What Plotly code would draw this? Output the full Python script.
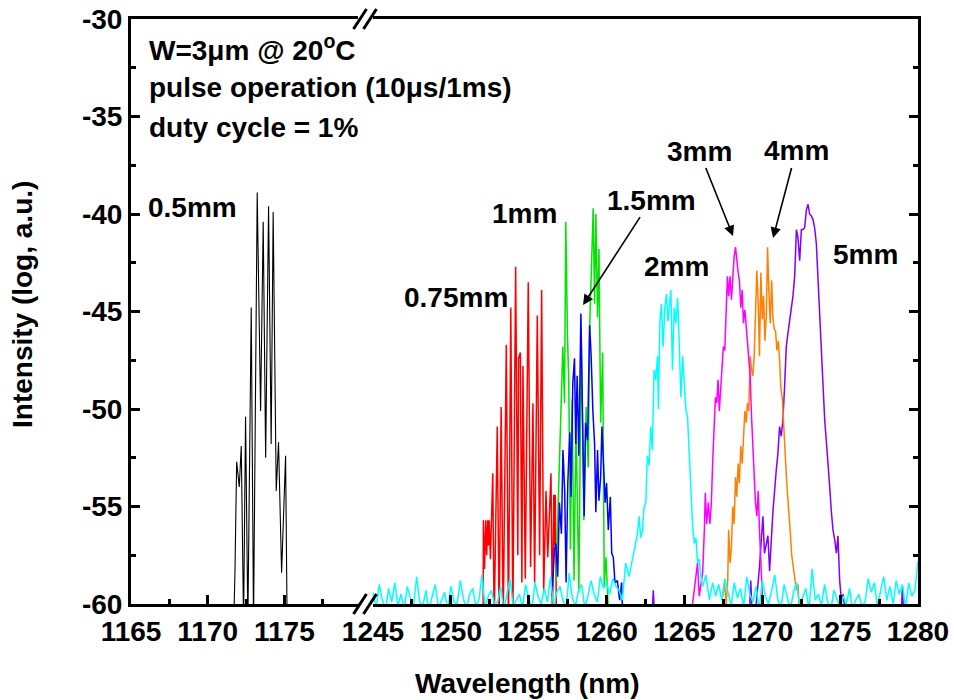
import numpy as np
import plotly.graph_objects as go

FONT = "Liberation Sans, Arial, sans-serif"

# ---------------- data (wavelength in nm, intensity in log a.u.) ----------------
# 0.5 mm (left axis segment)
bk_x = [1171.70, 1171.78, 1171.89, 1172.06, 1172.19, 1172.34, 1172.47, 1172.62, 1172.84, 1172.99,
        1173.23, 1173.45, 1173.62, 1173.78, 1173.97, 1174.14, 1174.27, 1174.47, 1174.62, 1174.82,
        1175.08, 1175.18]
bk_y = [-61, -58.3, -52.7, -54.0, -51.9, -61, -50.4, -61, -44.8, -61,
        -38.9, -50.1, -40.4, -52.5, -39.6, -51.8, -39.9, -54.2, -51.7, -58.4,
        -52.4, -61]

# 0.75 mm
rd_x = [1252.07, 1252.09, 1252.16, 1252.24, 1252.30, 1252.37, 1252.42, 1252.46, 1252.54, 1252.69,
        1252.78, 1252.98, 1253.10, 1253.23, 1253.36, 1253.56, 1253.70, 1253.85, 1253.98, 1254.16,
        1254.30, 1254.35, 1254.46, 1254.56, 1254.63, 1254.78, 1254.97, 1255.12, 1255.27, 1255.38,
        1255.55, 1255.70, 1255.83, 1255.96, 1256.11, 1256.22, 1256.43, 1256.52, 1256.61, 1256.66,
        1256.71, 1256.78]
rd_y = [-61, -55.7, -58.2, -55.7, -57.5, -55.7, -57.0, -55.7, -57.7, -53.3,
        -61, -50.9, -61, -49.9, -61, -46.7, -61, -44.8, -61, -42.7,
        -57.5, -47.4, -47.1, -58.9, -47.8, -58.7, -43.5, -58.1, -49.7, -58.9,
        -45.2, -57.5, -43.9, -59.4, -54.2, -57.6, -53.3, -61, -54.4, -57.0,
        -54.4, -61]

# 1 mm
gr_x = [1256.75, 1256.97, 1257.19, 1257.30, 1257.38, 1257.49, 1257.57, 1257.68, 1257.79, 1257.91,
        1258.04, 1258.22, 1258.37, 1258.54, 1258.69, 1258.82, 1258.93, 1259.04, 1259.14, 1259.23,
        1259.31, 1259.42, 1259.51, 1259.62, 1259.75, 1259.85, 1259.96, 1260.15]
gr_y = [-58.8, -53.2, -46.8, -49.7, -40.4, -46.3, -48.5, -57.2, -49.5, -58.8,
        -50.7, -59.4, -46.3, -55.7, -49.9, -53.0, -45.3, -42.5, -39.7, -44.6,
        -40.0, -45.3, -41.8, -50.7, -47.1, -59.1, -57.6, -61]

# 1.5 mm
bl_x = [1256.50, 1256.65, 1256.75, 1256.86, 1256.97, 1257.10, 1257.20, 1257.31, 1257.40, 1257.51,
        1257.64, 1257.72, 1257.83, 1257.94, 1258.02, 1258.11, 1258.22, 1258.35, 1258.43, 1258.56,
        1258.65, 1258.78, 1258.91, 1259.01, 1259.12, 1259.23, 1259.31, 1259.42, 1259.51, 1259.62,
        1259.70, 1259.81, 1259.91, 1260.00, 1260.11, 1260.24, 1260.33, 1260.43, 1260.54, 1260.69,
        1260.84, 1260.97, 1261.05]
bl_y = [-59.6, -57.2, -56.9, -58.6, -54.8, -56.4, -52.1, -54.2, -58.9, -53.8,
        -51.2, -54.5, -48.7, -47.4, -51.8, -48.3, -52.4, -45.1, -49.0, -55.5,
        -50.7, -51.6, -45.7, -47.3, -50.1, -51.8, -55.3, -52.1, -54.7, -53.5,
        -50.9, -53.3, -54.8, -53.8, -56.2, -54.5, -57.4, -57.6, -58.9, -58.8,
        -59.8, -58.9, -61]

# 2 mm (peak part)
cy_x = [1260.80, 1261.01, 1261.23, 1261.44, 1261.65, 1261.76, 1261.87, 1261.98, 1262.09, 1262.19,
        1262.30, 1262.41, 1262.52, 1262.62, 1262.73, 1262.84, 1262.94, 1263.05, 1263.16, 1263.27,
        1263.33, 1263.42, 1263.52, 1263.63, 1263.74, 1263.85, 1263.94, 1264.02, 1264.13, 1264.23,
        1264.34, 1264.45, 1264.56, 1264.66, 1264.77, 1264.88, 1264.99, 1265.10, 1265.20, 1265.31,
        1265.42, 1265.52, 1265.63, 1265.74, 1265.84, 1265.95, 1266.06, 1266.17, 1266.38, 1266.60,
        1266.81]
cy_y = [-59.3, -59.8, -57.9, -58.6, -57.8, -57.4, -56.9, -56.4, -55.5, -56.6,
        -56.3, -55.0, -54.8, -52.4, -52.9, -50.9, -52.1, -48.0, -48.5, -47.3,
        -50.0, -45.6, -44.6, -46.8, -44.8, -44.1, -45.5, -44.8, -43.9, -48.0,
        -44.8, -45.6, -44.3, -46.5, -49.4, -47.3, -48.7, -50.1, -50.4, -52.4,
        -54.2, -55.9, -56.9, -56.6, -57.9, -57.7, -58.6, -59.1, -58.5, -59.8,
        -58.9]
# 2 mm spectrum noise floor, sampled every 0.2 nm
cy_noise_left_start, cy_noise_right_start, cy_noise_step = 1245.0, 1267.0, 0.2
cy_noise_left = [
    -59.4, -60.2, -59.0, -59.8, -60.3, -59.2, -59.9, -58.9, -60.1, -59.5,
    -60.3, -59.1, -59.7, -60.2, -58.6, -59.9, -60.1, -59.3, -60.4, -59.6,
    -59.0, -60.2, -59.8, -59.4, -60.3, -59.1, -59.9, -60.0, -58.8, -59.7,
    -60.3, -59.5, -59.2, -60.1, -59.8, -58.5, -60.2, -59.6, -59.3, -60.0,
    -59.9, -59.1, -60.3, -59.4, -58.7, -60.1, -59.8, -59.5, -60.2, -59.0,
    -59.7, -60.3, -58.9, -59.6, -60.0, -59.2, -59.9, -58.6, -60.2, -59.4,
    -59.1, -59.8, -60.3, -58.4, -59.7, -60.1, -59.3, -59.0, -60.2, -59.6,
    -58.8, -59.5, -59.9, -58.6, -59.2, -58.9, -59.5, -58.7, -59.1]
cy_noise_right = [
    -59.6, -59.0, -59.8, -58.7, -59.4, -60.1, -58.9, -59.7, -59.2, -60.2,
    -58.6, -59.5, -59.9, -59.1, -60.3, -58.8, -59.6, -60.0, -59.3, -58.5,
    -59.8, -60.2, -59.0, -59.7, -60.3, -59.4, -58.9, -60.1, -59.6, -59.2,
    -60.3, -58.2, -59.8, -59.5, -60.1, -59.0, -59.9, -60.3, -59.3, -59.7,
    -60.2, -59.6, -60.0, -59.2, -60.3, -59.8, -59.5, -60.1, -59.9, -58.7,
    -59.4, -58.9, -60.2, -59.3, -58.6, -59.8, -59.1, -60.0, -58.8, -59.5,
    -59.0, -60.2, -58.9, -59.6, -59.3, -57.8]

# 3 mm
mg_x = [1265.52, 1265.63, 1265.74, 1265.84, 1265.95, 1266.06, 1266.17, 1266.28, 1266.34, 1266.43,
        1266.53, 1266.64, 1266.73, 1266.81, 1266.90, 1266.99, 1267.07, 1267.16, 1267.24, 1267.33,
        1267.42, 1267.50, 1267.59, 1267.68, 1267.76, 1267.84, 1267.93, 1268.02, 1268.10, 1268.19,
        1268.28, 1268.36, 1268.45, 1268.53, 1268.62, 1268.71, 1268.79, 1268.88, 1268.97, 1269.05,
        1269.13, 1269.22, 1269.31, 1269.39, 1269.48, 1269.56, 1269.65, 1269.74, 1269.82, 1269.91,
        1270.00, 1270.08]
mg_y = [-60.0, -59.3, -58.8, -57.9, -59.6, -58.9, -58.4, -56.2, -54.3, -55.9,
        -54.8, -55.9, -54.8, -52.8, -51.2, -49.4, -49.7, -48.5, -50.1, -48.7,
        -47.7, -46.8, -47.0, -45.1, -43.2, -44.2, -43.2, -44.4, -43.0, -42.2,
        -41.7, -42.5, -43.0, -43.4, -44.8, -43.9, -45.6, -44.9, -45.9, -46.3,
        -47.3, -48.3, -50.4, -51.9, -53.1, -54.8, -55.5, -54.2, -56.2, -57.9,
        -58.9, -61]

# 4 mm
og_x = [1267.46, 1267.57, 1267.68, 1267.78, 1267.84, 1267.93, 1268.02, 1268.10, 1268.19, 1268.28,
        1268.36, 1268.45, 1268.53, 1268.62, 1268.71, 1268.79, 1268.88, 1268.97, 1269.05, 1269.13,
        1269.22, 1269.31, 1269.39, 1269.48, 1269.56, 1269.65, 1269.74, 1269.82, 1269.91, 1270.00,
        1270.08, 1270.17, 1270.26, 1270.34, 1270.42, 1270.51, 1270.60, 1270.68, 1270.77, 1270.85,
        1270.94, 1271.03, 1271.11, 1271.20, 1271.29, 1271.37, 1271.46, 1271.55, 1271.63, 1271.72,
        1271.81, 1271.89, 1271.98, 1272.08, 1272.19, 1272.30, 1272.40]
og_y = [-59.6, -58.9, -60.0, -58.8, -56.2, -57.9, -57.1, -55.0, -55.9, -53.5,
        -54.5, -52.8, -53.8, -51.9, -52.8, -51.4, -50.1, -50.7, -49.7, -50.1,
        -47.3, -48.0, -48.3, -47.3, -45.1, -42.9, -44.6, -47.3, -43.0, -45.4,
        -44.2, -46.5, -45.1, -41.7, -43.9, -45.6, -43.4, -45.3, -45.9, -46.0,
        -47.0, -46.5, -47.5, -49.0, -49.5, -51.0, -52.5, -53.5, -54.5, -55.8,
        -56.5, -57.5, -58.0, -58.8, -59.3, -59.0, -61]

# 5 mm
pu_x = [1262.90, 1263.00, 1263.10, 1269.15, 1269.26, 1269.37,
        1269.61, 1269.82, 1270.04, 1270.14, 1270.36, 1270.47, 1270.68, 1270.79, 1270.90, 1271.00,
        1271.11, 1271.22, 1271.32, 1271.43, 1271.54, 1271.65, 1271.76, 1271.87, 1271.97, 1272.08,
        1272.19, 1272.29, 1272.40, 1272.51, 1272.61, 1272.72, 1272.83, 1272.94, 1273.04, 1273.15,
        1273.26, 1273.36, 1273.47, 1273.58, 1273.69, 1273.79, 1273.90, 1274.01, 1274.11, 1274.22,
        1274.33, 1274.44, 1274.54, 1274.65, 1274.76, 1274.86, 1274.97, 1275.08, 1275.19, 1275.41,
        1278.90, 1279.00, 1279.10]
pu_y = [-61, -59.3, -61, -61, -58.8, -61,
        -60.0, -58.1, -55.5, -57.4, -56.5, -58.3, -55.3, -54.0, -53.1, -52.3,
        -50.9, -51.4, -50.6, -48.9, -46.8, -46.1, -45.3, -44.8, -44.2, -43.2,
        -40.8, -41.2, -42.4, -40.8, -40.8, -40.7, -39.8, -39.5, -40.0, -40.1,
        -40.3, -40.7, -41.5, -43.4, -45.3, -47.1, -48.9, -50.6, -51.6, -53.1,
        -54.0, -55.3, -56.2, -56.7, -57.4, -56.5, -58.8, -59.8, -59.5, -61,
        -61, -59.1, -61]

# axis ticks
left_ticks = [1165, 1170, 1175]
left_minor = [1167.5, 1172.5, 1177.5]
right_ticks = [1245, 1250, 1255, 1260, 1265, 1270, 1275, 1280]
right_minor = [1247.5, 1252.5, 1257.5, 1262.5, 1267.5, 1272.5, 1277.5]
y_ticks = [-60, -55, -50, -45, -40, -35, -30]
y_minor = [-57.5, -52.5, -47.5, -42.5, -37.5, -32.5]

# ---------------- figure ----------------
cy_noise_left_x = np.round(cy_noise_left_start + cy_noise_step * np.arange(len(cy_noise_left)), 2)
cy_noise_right_x = np.round(cy_noise_right_start + cy_noise_step * np.arange(len(cy_noise_right)), 2)
cyan_x = list(cy_noise_left_x) + cy_x + list(cy_noise_right_x)
cyan_y = cy_noise_left + cy_y + cy_noise_right

fig = go.Figure()
fig.add_trace(go.Scatter(x=bk_x, y=bk_y, mode="lines", line=dict(color="black", width=1.1),
                         xaxis="x", yaxis="y", name="0.5mm"))
right_series = [
    (rd_x, rd_y, "#ff0000", "0.75mm"),
    (gr_x, gr_y, "#00e400", "1mm"),
    (bl_x, bl_y, "#0000ff", "1.5mm"),
    (pu_x, pu_y, "#8000ff", "5mm"),
    (og_x, og_y, "#ff8000", "4mm"),
    (mg_x, mg_y, "#ff00ff", "3mm"),
    (cyan_x, cyan_y, "#00ffff", "2mm"),
]
for xs, ys, col, nm in right_series:
    fig.add_trace(go.Scatter(x=xs, y=ys, mode="lines", line=dict(color=col, width=1.5),
                             xaxis="x2", yaxis="y2", name=nm))

tickfont = dict(family=FONT, size=28, color="black", weight="bold")
common_ax = dict(showline=True, linewidth=3, linecolor="black", showgrid=False, zeroline=False,
                 ticks="inside", ticklen=9, tickwidth=2.5, tickcolor="black", tickfont=tickfont,
                 automargin=False)

X_SPLIT_L, X_SPLIT_R = 0.2884, 0.3075

fig.update_layout(
    width=954, height=700,
    margin=dict(l=131, r=36, t=19, b=96, autoexpand=False),
    paper_bgcolor="white", plot_bgcolor="white", showlegend=False,
    xaxis=dict(domain=[0, X_SPLIT_L], range=[1165, 1179.8], anchor="y", mirror=True,
               tickmode="array", tickvals=left_ticks, ticktext=[str(t) for t in left_ticks],
               minor=dict(tickmode="array", tickvals=left_minor, ticks="inside", ticklen=5,
                          tickwidth=2.5, tickcolor="black"),
               **common_ax),
    xaxis2=dict(domain=[X_SPLIT_R, 1], range=[1245, 1280], anchor="y2", mirror=True,
                tickmode="array", tickvals=right_ticks, ticktext=[str(t) for t in right_ticks],
                minor=dict(tickmode="array", tickvals=right_minor, ticks="inside", ticklen=5,
                           tickwidth=2.5, tickcolor="black"),
                **common_ax),
    yaxis=dict(range=[-60, -30], anchor="x", tickmode="array", tickvals=y_ticks,
               ticktext=[str(t) for t in y_ticks],
               minor=dict(tickmode="array", tickvals=y_minor, ticks="inside", ticklen=5,
                          tickwidth=2.5, tickcolor="black"),
               **common_ax),
    yaxis2=dict(range=[-60, -30], anchor="x2", side="right", matches="y", showticklabels=False,
                tickmode="array", tickvals=y_ticks,
                minor=dict(tickmode="array", tickvals=y_minor, ticks="inside", ticklen=5,
                           tickwidth=2.5, tickcolor="black"),
                **common_ax),
)

# axis-break marks
def px2paper(px, py):
    return (px - 131) / 787.0, (604 - py) / 585.0

for cx in (360, 370):
    for cy in (19, 604):
        x0, y0 = px2paper(cx - 6.5, cy + 10)
        x1, y1 = px2paper(cx + 6.5, cy - 10)
        fig.add_shape(type="line", xref="paper", yref="paper", x0=x0, y0=y0, x1=x1, y1=y1,
                      line=dict(color="black", width=3))

lab_font = dict(family=FONT, size=28, color="black", weight="bold")
# info text
for i, line in enumerate(["W=3\u03bcm @ 20<sup>o</sup>C", "pulse operation (10\u03bcs/1ms)",
                          "duty cycle = 1%"]):
    x, y = px2paper(147, 48 + 39.5 * i)
    fig.add_annotation(xref="paper", yref="paper", x=x, y=y, text=line, showarrow=False,
                       xanchor="left", yanchor="middle", font=lab_font)

# series labels
fig.add_annotation(xref="x", yref="y", x=1169.04, y=-39.69, text="0.5mm", showarrow=False,
                   xanchor="center", yanchor="middle", font=lab_font)
for x, y, t in [(1254.76, -39.95, "1mm"), (1250.33, -44.26, "0.75mm"),
                (1264.52, -42.67, "2mm"), (1276.60, -42.10, "5mm")]:
    fig.add_annotation(xref="x2", yref="y2", x=x, y=y, text=t, showarrow=False,
                       xanchor="center", yanchor="middle", font=lab_font)

# labelled arrows (text centre offset from arrow head in pixels)
for x, y, ax, ay, t in [(1258.49, -44.67, 68, -105, "1.5mm"),
                        (1268.12, -41.13, -34, -85, "3mm"),
                        (1270.69, -41.23, 23, -87, "4mm")]:
    fig.add_annotation(xref="x2", yref="y2", x=x, y=y, ax=ax, ay=ay, text=t, showarrow=True,
                       arrowhead=2, arrowsize=1.3, arrowwidth=1.6, arrowcolor="black",
                       font=lab_font)

# axis titles
x, y = px2paper(527, 683)
fig.add_annotation(xref="paper", yref="paper", x=x, y=y, text="Wavelength (nm)", showarrow=False,
                   xanchor="center", yanchor="middle", font=lab_font)
x, y = px2paper(22, 305)
fig.add_annotation(xref="paper", yref="paper", x=x, y=y, text="Intensity (log, a.u.)",
                   showarrow=False, textangle=-90, xanchor="center", yanchor="middle",
                   font=lab_font)

fig.write_html("out.html")
